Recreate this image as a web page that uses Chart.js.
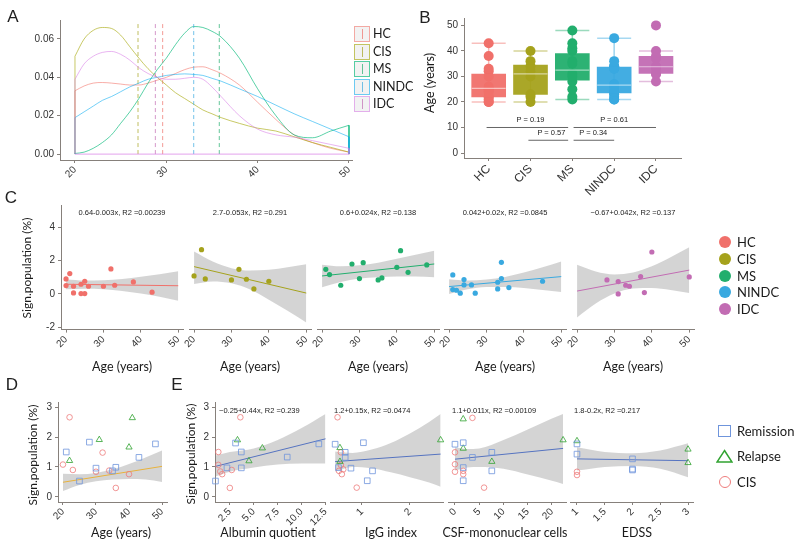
<!DOCTYPE html>
<html>
<head>
<meta charset="utf-8">
<script src="https://cdn.jsdelivr.net/npm/chart.js@4"></script>
<style>
  body { margin: 0; background: #fff; }
  #fig { position: relative; width: 800px; height: 546px; overflow: hidden; font-family: "Liberation Sans", Arial, sans-serif; color: #222; }
  #fig canvas { position: absolute; }
  .t { position: absolute; white-space: nowrap; line-height: 1; transform: translate(-50%, -50%); }
  .lab { font-size: 17px; }
  .ttl { font-family: Lato, "Liberation Sans", sans-serif; font-size: 12.5px; color: #1a1a1a; }
  .eq { font-size: 7.5px; color: #222; }
  .key { position: absolute; box-sizing: border-box; }
</style>
</head>
<body>
<div id="fig"></div>
<script>
// ---------- data ----------
const groups = ["HC", "CIS", "MS", "NINDC", "IDC"]

// A: age density per group
const densAge = [20, 21, 22, 23, 24, 25, 26, 27, 28, 29, 30, 31, 32, 33, 34, 35, 36, 38, 40, 42, 44, 46, 48, 50]
const densHC  = [0.033, 0.0355, 0.037, 0.0373, 0.037, 0.0365, 0.036, 0.036, 0.037, 0.0385, 0.040, 0.042, 0.044, 0.0453, 0.0455, 0.044, 0.042, 0.036, 0.027, 0.018, 0.010, 0.006, 0.003, 0.001]
const densCIS = [0.051, 0.060, 0.0645, 0.066, 0.0655, 0.062, 0.056, 0.050, 0.0445, 0.040, 0.036, 0.032, 0.029, 0.026, 0.023, 0.021, 0.019, 0.016, 0.0135, 0.012, 0.009, 0.006, 0.0035, 0.001]
const densMS  = [0.0003, 0.001, 0.003, 0.006, 0.010, 0.016, 0.022, 0.029, 0.037, 0.044, 0.050, 0.057, 0.063, 0.0665, 0.066, 0.064, 0.061, 0.050, 0.034, 0.020, 0.010, 0.0085, 0.012, 0.015]
const densNIN = [0.019, 0.022, 0.025, 0.028, 0.030, 0.0325, 0.035, 0.037, 0.039, 0.040, 0.041, 0.0415, 0.0418, 0.0415, 0.041, 0.0395, 0.038, 0.034, 0.030, 0.0255, 0.021, 0.017, 0.013, 0.009]
const densIDC = [0.039, 0.047, 0.051, 0.053, 0.0535, 0.052, 0.049, 0.045, 0.042, 0.040, 0.039, 0.039, 0.0395, 0.040, 0.039, 0.035, 0.030, 0.020, 0.013, 0.010, 0.0088, 0.007, 0.005, 0.003]
const meanAge = [29.6, 26.9, 35.8, 33.0, 28.8]

// B + C: age and sign. population per subject
const hcAge   = [20, 20, 21, 22, 22, 24, 24, 25, 25, 26, 30, 32, 33, 38, 43]
const hcSign  = [0.9, 0.5, 1.22, 0.46, 0.06, 0.58, 0.02, 0.02, 0.76, 0.46, 0.46, 1.5, 0.52, 0.72, 0.1]
const cisAge  = [20, 22, 23, 30, 32, 34, 36, 40]
const cisSign = [1.08, 2.66, 0.9, 0.84, 1.48, 0.88, 0.3, 0.76]
const msAge   = [21, 22, 25, 28, 30, 31, 35, 36, 40, 41, 43, 48]
const msSign  = [1.48, 1.16, 0.52, 1.8, 0.92, 1.88, 0.84, 0.96, 1.6, 2.6, 1.3, 1.74]
const ninAge  = [21, 21, 22, 23, 24, 24, 26, 27, 33, 33, 34, 34, 36, 45]
const ninSign = [1.14, 0.26, 0.22, 0.04, 0.86, 0.54, 0.54, 0.04, 0.7, 0.3, 1.9, 0.92, 0.38, 0.76]
const idcAge  = [28, 31, 31, 33, 34, 37, 38, 40, 50]
const idcSign = [0.84, 0.74, 0.0, 0.52, 0.46, 1.04, 0.08, 2.52, 1.02]

// B: box statistics
const boxLow  = [20, 20, 21, 21, 28]
const boxQ1   = [22, 23, 28.5, 23.5, 31.2]
const boxMed  = [25.3, 31, 32.5, 26.6, 33.8]
const boxQ3   = [30.9, 34.5, 39, 33.7, 37.9]
const boxHigh = [43, 40, 48, 45, 40]
const pPairs = [[0, 2], [2, 4], [1, 2], [2, 3]]
const pLevel = [10, 10, 5, 5]
const pText  = ["P = 0.19", "P = 0.61", "P = 0.57", "P = 0.34"]

// C: linear fits and confidence bands
const fitAge = [20, 50]
const fitHC  = [0.58, 0.49]
const fitCIS = [1.64, 0.05]
const fitMS  = [1.08, 1.8]
const fitNIN = [0.44, 1.04]
const fitIDC = [0.17, 1.43]
const bandAge   = [20, 25, 30, 35, 40, 45, 50]
const bandHCup  = [0.86, 0.8, 0.82, 0.9, 1.03, 1.18, 1.36]
const bandHClo  = [0.28, 0.31, 0.28, 0.18, 0.02, -0.18, -0.42]
const bandCISup = [2.55, 1.95, 1.55, 1.4, 1.45, 1.6, 1.78]
const bandCISlo = [0.6, 0.75, 0.64, 0.27, -0.35, -1.02, -1.72]
const bandMSup  = [1.76, 1.66, 1.72, 1.88, 2.12, 2.36, 2.6]
const bandMSlo  = [0.4, 0.72, 0.92, 1.0, 1.04, 1.04, 1.0]
const bandNINup = [0.88, 0.8, 0.86, 1.02, 1.28, 1.6, 1.95]
const bandNINlo = [0.0, 0.28, 0.42, 0.42, 0.36, 0.24, 0.12]
const bandIDCup = [1.75, 1.35, 1.17, 1.28, 1.66, 2.2, 2.8]
const bandIDClo = [-1.42, -0.58, 0.02, 0.32, 0.36, 0.24, 0.06]
const eqC = ["0.64-0.003x, R2 =0.00239", "2.7-0.053x, R2 =0.291", "0.6+0.024x, R2 =0.138", "0.042+0.02x, R2 =0.0845", "\u22120.67+0.042x, R2 =0.137"]

// D: MS split by status (CIS reuses cisAge / cisSign)
const remAge  = [21, 25, 28, 30, 35, 36, 43, 48]
const remSign = [1.5, 0.53, 1.83, 0.96, 0.87, 0.99, 1.32, 1.77]
const relAge  = [22, 31, 40, 41]
const relSign = [1.21, 1.91, 1.66, 2.64]
const fitD    = [0.49, 1.02]
const bandDup = [0.77, 0.76, 0.8, 0.92, 1.1, 1.32, 1.55]
const bandDlo = [0.2, 0.4, 0.52, 0.58, 0.6, 0.58, 0.5]

// E: clinical measures, [value, sign. population]
const albRem = [[1.0, 0.53], [2.2, 0.97], [3.1, 1.8], [3.7, 1.5], [3.7, 0.97], [8.5, 1.33], [11.8, 1.77]]
const albRel = [[3.3, 1.9], [4.5, 1.2], [5.9, 1.63]]
const albCis = [[1.3, 1.5], [1.3, 1.07], [1.5, 0.85], [1.7, 0.76], [2.5, 0.3], [2.7, 0.9], [3.6, 2.66]]
const albFitX = [1.0, 12.5], albFitY = [1.02, 1.94]
const albBandX = [1.0, 2.5, 5, 7.5, 10, 12.5]
const albBandUp = [1.38, 1.5, 1.62, 1.9, 2.3, 2.77]
const albBandLo = [0.68, 0.84, 0.98, 1.08, 1.12, 1.12]

const iggRem = [[0.44, 1.76], [0.65, 1.49], [0.65, 1.32], [0.51, 0.98], [0.77, 0.96], [1.03, 1.81], [1.22, 0.87], [1.11, 0.54]]
const iggRel = [[0.54, 1.64], [0.54, 1.18], [2.64, 1.9]]
const iggCis = [[0.49, 2.66], [0.56, 1.49], [0.56, 1.07], [0.61, 0.92], [0.52, 0.87], [0.58, 0.76], [0.89, 0.31]]
const iggFitX = [0.44, 2.64], iggFitY = [1.18, 1.43]
const iggBandX = [0.44, 0.8, 1.2, 1.6, 2.0, 2.4, 2.64]
const iggBandUp = [1.52, 1.47, 1.58, 1.8, 2.12, 2.5, 2.77]
const iggBandLo = [0.85, 1.0, 0.96, 0.82, 0.66, 0.48, 0.34]

const csfRem = [[0, 1.76], [1.7, 1.81], [1.7, 0.98], [1.7, 0.54], [3.6, 1.32], [7.6, 1.49], [7.6, 0.87]]
const csfRel = [[1.7, 2.6], [1.7, 1.62], [7.6, 1.18], [22.3, 1.9]]
const csfCis = [[0, 1.49], [0, 1.09], [0, 0.84], [1.7, 0.87], [1.7, 0.76], [3.6, 2.64], [6.0, 0.31]]
const csfFitX = [0, 22.3], csfFitY = [1.26, 1.62]
const csfBandX = [0, 2.5, 5, 10, 15, 20, 22.3]
const csfBandUp = [1.66, 1.6, 1.62, 1.9, 2.25, 2.62, 2.77]
const csfBandLo = [0.88, 0.98, 1.0, 0.94, 0.75, 0.54, 0.43]

const edssRem = [[1, 1.77], [1, 1.43], [2, 1.27], [2, 0.93], [2, 0.9]]
const edssRel = [[1, 1.87], [3, 1.59], [3, 1.14]]
const edssCis = [[1, 0.84], [1, 0.73]]
const edssFitX = [1, 3], edssFitY = [1.27, 1.21]
const edssBandX = [1, 1.5, 2, 2.5, 3]
const edssBandUp = [1.66, 1.5, 1.46, 1.55, 1.79]
const edssBandLo = [0.88, 1.0, 1.03, 0.94, 0.66]
const eqE = ["\u22120.25+0.44x, R2 =0.239", "1.2+0.15x, R2 =0.0474", "1.1+0.011x, R2 =0.00109", "1.8-0.2x, R2 =0.217"]

// tick values
const ageTicks = [20, 30, 40, 50]
const densTicks = [0, 0.02, 0.04, 0.06]
const densLabels = ["0.00", "0.02", "0.04", "0.06"]
const boxTicks = [0, 10, 20, 30, 40, 50]
const signTicksC = [-2, 0, 2, 4]
const signTicksDE = [0, 1, 2, 3]
const albTicks = [2.5, 5, 7.5, 10, 12.5]
const albLabels = ["2.5", "5.0", "7.5", "10.0", "12.5"]
const iggTicks = [1, 2]
const csfTicks = [0, 5, 10, 15, 20]
const edssTicks = [1, 1.5, 2, 2.5, 3]

// ---------- styling ----------
const colors = ["#F0706A", "#A5A21C", "#22AE6D", "#39A9E0", "#C26CB3"]
const densColors = ["rgba(244,120,110,0.6)", "rgba(163,165,0,0.6)", "rgba(0,185,120,0.65)", "rgba(0,170,240,0.55)", "rgba(215,120,230,0.55)"]
const colRem = "#6F95DC", colRel = "#31A331", colCisO = "#EE7C7C"
const bandCol = "rgba(153,153,153,0.42)"
const axisCol = "#86807b"

Chart.defaults.font.family = "'Liberation Sans', Arial, sans-serif"
Chart.defaults.color = "#333"

const fig = document.getElementById("fig")

function rgba(hex, a) {
  const n = parseInt(hex.slice(1), 16)
  return `rgba(${n >> 16},${(n >> 8) & 255},${n & 255},${a})`
}
const pts = (xs, ys) => xs.map((x, i) => ({ x, y: ys[i] }))
const pairs = arr => arr.map(p => ({ x: p[0], y: p[1] }))

function mk(left, top, w, h, config) {
  const c = document.createElement("canvas")
  c.width = w
  c.height = h
  c.style.left = left + "px"
  c.style.top = top + "px"
  c.style.width = w + "px"
  c.style.height = h + "px"
  fig.appendChild(c)
  return new Chart(c, config)
}

function opts(pad, x, y) {
  return {
    responsive: false,
    animation: false,
    devicePixelRatio: 1,
    events: [],
    layout: { padding: pad },
    plugins: { legend: { display: false }, tooltip: { enabled: false } },
    scales: { x, y },
  }
}

function xAxis(min, max, ticks, labels, h, size) {
  return {
    type: "linear", min, max, offset: false,
    afterBuildTicks: s => { s.ticks = ticks.map(v => ({ value: v })) },
    afterFit: s => { s.height = h },
    border: { display: true, color: axisCol, width: 1 },
    grid: { display: true, drawOnChartArea: false, drawTicks: true, tickLength: 3, color: axisCol, offset: false },
    ticks: {
      autoSkip: false, minRotation: 45, maxRotation: 45, padding: 1, color: "#333",
      font: { size: size || 10 },
      callback: (v, i) => (labels ? labels[i] : String(v)),
    },
  }
}

function yAxis(min, max, ticks, labels, w) {
  if (!ticks) return { display: false, min, max }
  return {
    type: "linear", min, max,
    afterBuildTicks: s => { s.ticks = ticks.map(v => ({ value: v })) },
    afterFit: s => { s.width = w },
    border: { display: true, color: axisCol, width: 1 },
    grid: { display: true, drawOnChartArea: false, drawTicks: true, tickLength: 3, color: axisCol },
    ticks: { autoSkip: false, padding: 3, color: "#333", font: { size: 10 }, callback: (v, i) => (labels ? labels[i] : String(v)) },
  }
}

function band(xs, up, lo) {
  const base = { showLine: true, pointRadius: 0, borderWidth: 0, borderColor: "transparent", cubicInterpolationMode: "monotone", order: 3, clip: false }
  return [
    { ...base, data: pts(xs, up) },
    { ...base, data: pts(xs, lo), fill: "-1", backgroundColor: bandCol },
  ]
}

function fitLine(xs, ys, col) {
  return { data: pts(xs, ys), showLine: true, pointRadius: 0, borderColor: col, borderWidth: 1, order: 1, clip: false }
}

function marks(data, style, col, r) {
  return { data, pointStyle: style, pointRadius: r, backgroundColor: "transparent", borderColor: rgba(col, 0.8), borderWidth: 1, order: 0, clip: false }
}

function txt(s, x, y, cls, css) {
  const d = document.createElement("div")
  d.className = "t " + (cls || "")
  d.textContent = s
  d.style.left = x + "px"
  d.style.top = y + "px"
  if (css) Object.assign(d.style, css)
  fig.appendChild(d)
  return d
}

function box(x, y, w, h, css) {
  const d = document.createElement("div")
  d.className = "key"
  Object.assign(d.style, { left: x + "px", top: y + "px", width: w + "px", height: h + "px" }, css)
  fig.appendChild(d)
  return d
}

// ---------- A: density ----------
const densSets = [densHC, densCIS, densMS, densNIN, densIDC]
const densTop = 0.069
const dsA = []
densSets.forEach((d, i) => {
  const col = densColors[i]
  const last = densAge.length - 1
  const base = { showLine: true, pointRadius: 0, borderColor: col, borderWidth: 1, order: 10 - i }
  dsA.push({ ...base, data: pts(densAge, d), cubicInterpolationMode: "monotone" })
  dsA.push({ ...base, data: [{ x: densAge[0], y: 0 }, { x: densAge[0], y: d[0] }] })
  dsA.push({ ...base, data: [{ x: densAge[last], y: d[last] }, { x: densAge[last], y: 0 }] })
  dsA.push({ ...base, data: [{ x: meanAge[i], y: 0 }, { x: meanAge[i], y: densTop }], borderDash: [4, 3], borderColor: rgba(colors[i], 0.7) })
})
dsA.push({ data: [{ x: 20, y: 0 }, { x: 50, y: 0 }], showLine: true, pointRadius: 0, borderColor: densColors[4], borderWidth: 1.2, order: 0 })

mk(0, 0, 360, 200, {
  type: "scatter",
  data: { datasets: dsA },
  options: opts({ top: 20, right: 8, left: 0, bottom: 0 },
    xAxis(18.36, 50.33, ageTicks, null, 40),
    yAxis(-0.0031, 0.0699, densTicks, densLabels, 60)),
})

// ---------- B: boxplot ----------
const ages = [hcAge, cisAge, msAge, ninAge, idcAge]
const dsB = []
dsB.push({
  type: "bar",
  data: groups.map((g, i) => ({ x: i, y: [boxQ1[i], boxQ3[i]] })),
  backgroundColor: colors.map(c => rgba(c, 0.95)),
  barThickness: 34, borderWidth: 0, order: 2, grouped: false,
})
groups.forEach((g, i) => {
  dsB.push({ type: "scatter", data: [{ x: i, y: boxLow[i] }, { x: i, y: boxHigh[i] }], showLine: true, pointRadius: 0, borderColor: rgba(colors[i], 0.5), borderWidth: 1.5, order: 5 })
  dsB.push({ type: "scatter", data: [{ x: i, y: boxLow[i] }, { x: i, y: boxHigh[i] }], pointStyle: "line", pointRadius: 17, borderColor: rgba(colors[i], 0.45), borderWidth: 1.5, order: 5 })
  dsB.push({ type: "scatter", data: ages[i].map(a => ({ x: i, y: a })), pointRadius: 5, backgroundColor: colors[i], borderWidth: 0, order: 3 })
})
dsB.push({ type: "scatter", data: pts([0, 1, 2, 3, 4], boxMed), pointStyle: "line", pointRadius: 17, borderColor: "rgba(255,255,255,0.55)", borderWidth: 1.2, order: 1 })
pPairs.forEach((p, k) => {
  const a = p[0] === 2 ? p[0] + 0.03 : p[0] - 0.05
  const b = p[1] === 2 ? p[1] - 0.1 : p[1]
  dsB.push({ type: "scatter", data: [{ x: a, y: pLevel[k] }, { x: b, y: pLevel[k] }], showLine: true, pointRadius: 0, borderColor: "#666", borderWidth: 1, order: 1 })
})

const chartB = mk(400, 0, 300, 200, {
  type: "bar",
  data: { datasets: dsB },
  options: opts({ top: 18, right: 7, left: 0, bottom: 0 },
    xAxis(-0.59, 4.61, [0, 1, 2, 3, 4], groups, 42, 12),
    yAxis(-1.95, 52.7, boxTicks, null, 64)),
})
pPairs.forEach((p, k) => {
  const sx = chartB.scales.x, sy = chartB.scales.y
  const cx = 400 + sx.getPixelForValue((p[0] + p[1]) / 2)
  const cy = sy.getPixelForValue(pLevel[k]) - 7
  txt(pText[k], cx, cy, "eq")
})

// ---------- C: per-group regressions ----------
const cSets = [
  { age: hcAge, sign: hcSign, fit: fitHC, up: bandHCup, lo: bandHClo },
  { age: cisAge, sign: cisSign, fit: fitCIS, up: bandCISup, lo: bandCISlo },
  { age: msAge, sign: msSign, fit: fitMS, up: bandMSup, lo: bandMSlo },
  { age: ninAge, sign: ninSign, fit: fitNIN, up: bandNINup, lo: bandNINlo },
  { age: idcAge, sign: idcSign, fit: fitIDC, up: bandIDCup, lo: bandIDClo },
]
const cLeft = [61, 189, 317, 444, 572]
cSets.forEach((g, i) => {
  const first = i === 0
  const ds = [
    ...band(bandAge, g.up, g.lo),
    fitLine(fitAge, g.fit, colors[i]),
    { data: pts(g.age, g.sign), pointRadius: 2.6, backgroundColor: colors[i], borderWidth: 0, order: 0, clip: false },
  ]
  const ch = mk(first ? 0 : cLeft[i] - 14, 180, first ? 190 : 143, 180, {
    type: "scatter",
    data: { datasets: ds },
    options: opts({ top: 25, right: 7, left: first ? 0 : 14, bottom: 0 },
      xAxis(18.65, 51.27, ageTicks, null, 30.4),
      first ? yAxis(-2.15, 5.35, signTicksC, null, 61) : yAxis(-2.15, 5.35)),
  })
  const mid = cLeft[i] + 61
  txt(eqC[i], mid, 213, "eq")
  txt("Age (years)", mid, 367, "ttl")
})

// ---------- D ----------
mk(0, 380, 175, 166, {
  type: "scatter",
  data: {
    datasets: [
      ...band(bandAge, bandDup, bandDlo),
      fitLine(fitAge, fitD, "#E8B23C"),
      marks(pts(remAge, remSign), "rect", colRem, 4),
      marks(pts(relAge, relSign), "triangle", colRel, 3.6),
      marks(pts(cisAge, cisSign), "circle", colCisO, 2.8),
    ],
  },
  options: opts({ top: 22, right: 8, left: 0, bottom: 0 },
    xAxis(18.5, 51.5, ageTicks, null, 44),
    yAxis(-0.17, 3.17, signTicksDE, null, 58)),
})

// ---------- E ----------
const eSets = [
  { rem: albRem, rel: albRel, cis: albCis, fx: albFitX, fy: albFitY, bx: albBandX, bu: albBandUp, bl: albBandLo, min: 0.95, max: 12.5, ticks: albTicks, labels: albLabels, left: 215, w: 112 },
  { rem: iggRem, rel: iggRel, cis: iggCis, fx: iggFitX, fy: iggFitY, bx: iggBandX, bu: iggBandUp, bl: iggBandLo, min: 0.333, max: 2.69, ticks: iggTicks, labels: null, left: 330, w: 113 },
  { rem: csfRem, rel: csfRel, cis: csfCis, fx: csfFitX, fy: csfFitY, bx: csfBandX, bu: csfBandUp, bl: csfBandLo, min: -1.44, max: 22.9, ticks: csfTicks, labels: null, left: 448, w: 118 },
  { rem: edssRem, rel: edssRel, cis: edssCis, fx: edssFitX, fy: edssFitY, bx: edssBandX, bu: edssBandUp, bl: edssBandLo, min: 0.874, max: 3.09, ticks: edssTicks, labels: null, left: 570, w: 123 },
]
eSets.forEach((e, i) => {
  const first = i === 0
  const padL = first ? 0 : 14
  const yW = first ? 55 : 0
  const cl = e.left - (first ? yW : padL)
  mk(cl, 380, (first ? yW : padL) + e.w + 8, 166, {
    type: "scatter",
    data: {
      datasets: [
        ...band(e.bx, e.bu, e.bl),
        fitLine(e.fx, e.fy, "#5573C0"),
        marks(pairs(e.rem), "rect", colRem, 4),
        marks(pairs(e.rel), "triangle", colRel, 3.6),
        marks(pairs(e.cis), "circle", colCisO, 2.8),
      ],
    },
    options: opts({ top: 22, right: 8, left: padL, bottom: 0 },
      xAxis(e.min, e.max, e.ticks, e.labels, 44),
      first ? yAxis(-0.17, 3.17, signTicksDE, null, yW) : yAxis(-0.17, 3.17)),
  })
  txt(eqE[i], e.left + 4, 411, "eq", { transform: "translate(0,-50%)" })
})

// ---------- texts ----------
txt("A", 13, 16, "lab")
txt("B", 425, 17, "lab")
txt("C", 11, 197, "lab")
txt("D", 12, 384, "lab")
txt("E", 177, 384, "lab")

txt("Age (years)", 430, 83, "ttl", { transform: "translate(-50%,-50%) rotate(-90deg)" })
txt("Sign.population (%)", 27, 268, "ttl", { transform: "translate(-50%,-50%) rotate(-90deg)", fontSize: "12px" })
txt("Sign.population (%)", 33, 455, "ttl", { transform: "translate(-50%,-50%) rotate(-90deg)", fontSize: "12px" })
txt("Sign.population (%)", 191, 454, "ttl", { transform: "translate(-50%,-50%) rotate(-90deg)", fontSize: "12px" })

txt("Age (years)", 121, 533, "ttl")
txt("Albumin quotient", 268, 533, "ttl")
txt("IgG index", 391, 533, "ttl")
txt("CSF-mononuclear cells", 505, 533, "ttl")
txt("EDSS", 637, 533, "ttl")

// legend A
const keyY = [34, 51.5, 69, 86.5, 104]
groups.forEach((g, i) => {
  box(354, keyY[i] - 8, 16, 16, { background: "#f2f2f2", border: "1.5px solid " + densColors[i] })
  box(361.5, keyY[i] - 5, 1, 10, { background: rgba(colors[i], 0.7) })
  txt(g, 373, keyY[i], "ttl", { transform: "translate(0,-50%)" })
})

// legend C
const legCY = [242, 259, 276, 292, 309]
groups.forEach((g, i) => {
  box(719, legCY[i] - 6, 12, 12, { background: colors[i], borderRadius: "50%" })
  txt(g, 737, legCY[i], "ttl", { transform: "translate(0,-50%)", fontSize: "13px" })
})

// legend D/E
box(718, 425, 13, 12, { border: "1.5px solid " + colRem })
const tri = box(716, 449, 17, 14, {})
tri.innerHTML = '<svg width="17" height="14"><polygon points="8.5,1.5 16,13 1,13" fill="none" stroke="' + colRel + '" stroke-width="1.5"/></svg>'
box(719, 476, 12, 12, { border: "1.5px solid " + colCisO, borderRadius: "50%" })
txt("Remission", 737, 431, "ttl", { transform: "translate(0,-50%)", fontSize: "13px" })
txt("Relapse", 737, 456, "ttl", { transform: "translate(0,-50%)", fontSize: "13px" })
txt("CIS", 737, 482, "ttl", { transform: "translate(0,-50%)", fontSize: "13px" })
</script>
</body>
</html>
